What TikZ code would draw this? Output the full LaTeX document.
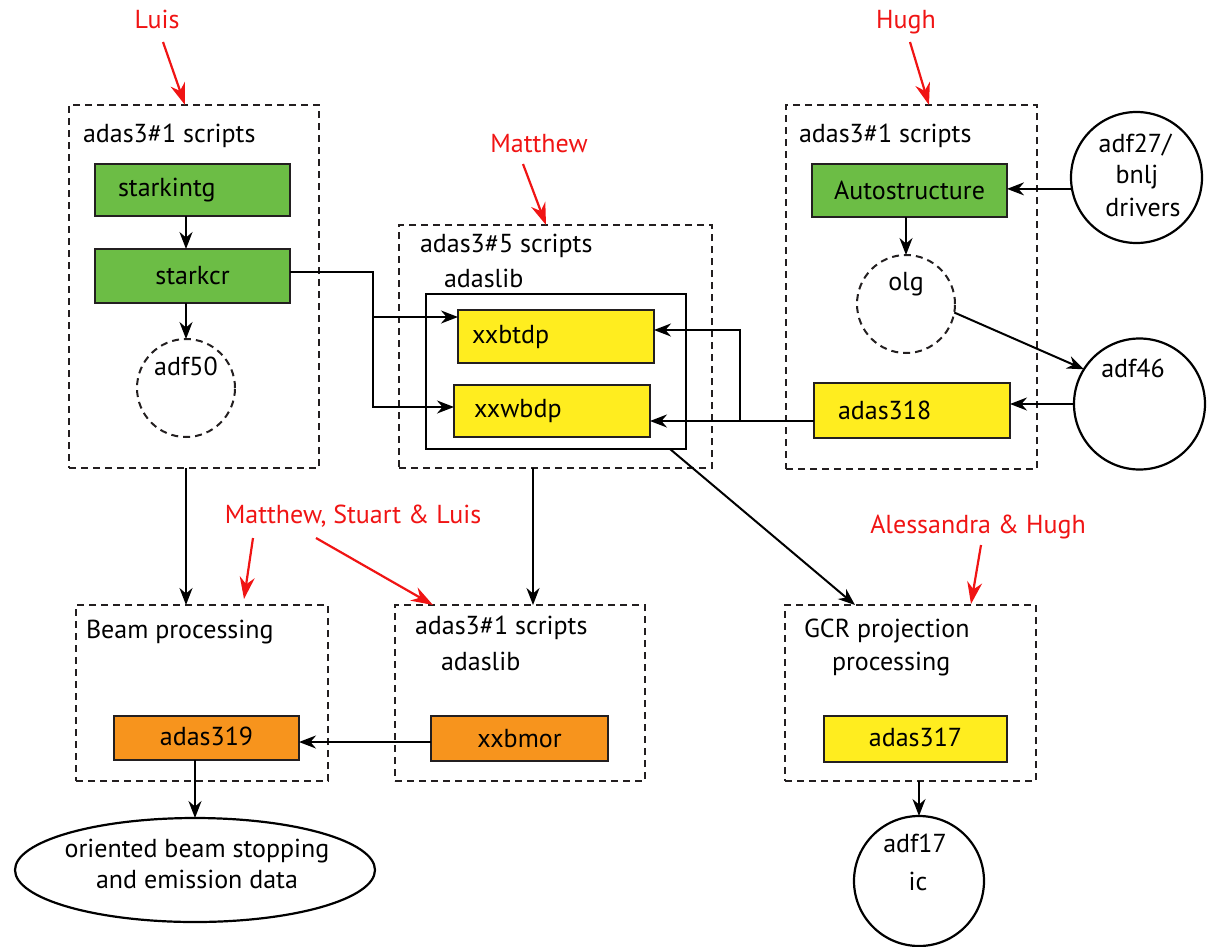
\documentclass[tikz,border=0pt]{standalone}
\usepackage{fontspec}
\setmainfont{PT Sans}
\usetikzlibrary{arrows.meta,shapes.geometric}
\definecolor{boxgreen}{RGB}{108,189,69}
\definecolor{boxyellow}{RGB}{255,237,31}
\definecolor{boxorange}{RGB}{247,148,29}
\definecolor{annred}{RGB}{240,20,20}
\definecolor{edgecol}{RGB}{35,31,32}
\begin{document}
\begin{tikzpicture}[x=1pt,y=-1pt,
  every node/.style={font=\fontsize{26}{31}\selectfont, inner sep=0pt, outer sep=0pt},
  group/.style={draw=edgecol, line width=2pt, dash pattern=on 7pt off 5pt, rectangle},
  solidgroup/.style={draw=black, line width=2.2pt, rectangle},
  fbox/.style={draw=edgecol, line width=2.4pt, rectangle},
  greenbox/.style={fbox, fill=boxgreen},
  yellowbox/.style={fbox, fill=boxyellow},
  orangebox/.style={fbox, fill=boxorange},
  dcirc/.style={circle, draw=edgecol, line width=2pt, dash pattern=on 7pt off 5pt},
  scirc/.style={circle, draw=black, line width=2.2pt},
  lab/.style={anchor=base west},
  clab/.style={anchor=base},
  redlab/.style={anchor=base, text=annred},
  arr/.style={draw=black, line width=2pt, -{Stealth[length=17pt,width=13pt]}},
  redarr/.style={draw=annred, line width=2.2pt, -{Stealth[length=22pt,width=15pt]}}
]
\useasboundingbox (0,0) rectangle (1213,946);

% dashed groups
\node[group, minimum width=250pt, minimum height=363pt] (box1) at (194,286.5) {};
\node[group, minimum width=313pt, minimum height=243pt] (box2) at (555.5,346.5) {};
\node[group, minimum width=251pt, minimum height=364pt] (box3) at (911.5,287) {};
\node[group, minimum width=252pt, minimum height=176pt] (beambox) at (202,693) {};
\node[group, minimum width=250pt, minimum height=176pt] (lowbox) at (520,693) {};
\node[group, minimum width=251pt, minimum height=176pt] (gcrbox) at (910.5,693) {};
\node[solidgroup, minimum width=260pt, minimum height=155pt] (libbox) at (556,371.5) {};

% group labels
\node[lab] (box1lab) at (83,142) {adas3\#1 scripts};
\node[lab] (box3lab) at (799,142) {adas3\#1 scripts};
\node[lab] (box2lab) at (420,252) {adas3\#5 scripts};
\node[lab] (libboxlab) at (444,287) {adaslib};
\node[lab] (beamlab) at (86,638) {Beam processing};
\node[lab] (lowlab) at (415,634) {adas3\#1 scripts};
\node[lab] (lowlib) at (441,670) {adaslib};
\node[lab] (gcrlab) at (804,637) {GCR projection};
\node[lab] (gcrlab2) at (832,670) {processing};

% program boxes
\node[greenbox, minimum width=195pt, minimum height=52pt, inner xsep=23pt, text width=149pt, align=left] (starkintg) at (192.5,190) {starkintg};
\node[greenbox, minimum width=195pt, minimum height=54pt] (starkcr) at (192.5,276) {starkcr};
\node[greenbox, minimum width=195pt, minimum height=53pt] (autos) at (909.5,190.5) {Autostructure};
\node[yellowbox, minimum width=196pt, minimum height=53pt, inner xsep=14pt, text width=168pt, align=left] (xxbtdp) at (556,336.5) {xxbtdp};
\node[yellowbox, minimum width=196pt, minimum height=52pt, inner xsep=20pt, text width=156pt, align=left] (xxwbdp) at (552,411) {xxwbdp};
\node[yellowbox, minimum width=196pt, minimum height=55pt, inner xsep=24pt, text width=148pt, align=left] (adas318) at (912,410.5) {adas318};
\node[orangebox, minimum width=185pt, minimum height=44pt] (adas319) at (206.5,738) {\raisebox{4pt}{adas319}\hspace{10pt}};
\node[orangebox, minimum width=177pt, minimum height=45pt] (xxbmor) at (519.5,738.5) {xxbmor};
\node[yellowbox, minimum width=183pt, minimum height=46pt] (adas317) at (915.5,739) {\raisebox{4pt}{adas317}\hspace{10pt}};

% data circles
\node[dcirc, minimum size=98pt] (adf50) at (186,388) {};
\node[clab] (adf50lab) at (186,375) {adf50};
\node[dcirc, minimum size=98pt] (olg) at (906,304) {};
\node[clab] (olglab) at (906,290) {olg};
\node[scirc, minimum size=131pt] (adf27) at (1136.5,177.5) {};
\node[clab] (adf27a) at (1135,152) {adf27/};
\node[clab] (adf27b) at (1137,183) {bnlj};
\node[clab] (adf27c) at (1143,216) {drivers};
\node[scirc, minimum size=131pt] (adf46) at (1139.5,404) {};
\node[clab] (adf46lab) at (1133,377) {adf46};
\node[scirc, minimum size=130pt] (adf17) at (919,881) {};
\node[clab] (adf17a) at (915,852) {adf17};
\node[clab] (adf17b) at (918,890) {ic};
\node[ellipse, draw=black, line width=2.2pt, minimum width=360pt, minimum height=104pt] (ell) at (195,870) {};
\node[clab] (ella) at (197,857) {oriented beam stopping};
\node[clab] (ellb) at (197,888) {and emission data};

% black connectors
\draw[arr] (starkintg.south -| adf50.north) -- (starkcr.north -| adf50.north);
\draw[arr] (starkcr.south -| adf50.north) -- (adf50.north);
\coordinate (bend) at (373,272);
\draw[arr] ([yshift=4pt]starkcr.east) -- (bend) |- ([yshift=19.5pt]xxbtdp.west);
\draw[arr] (bend) |- ([yshift=4pt]xxwbdp.west);
\coordinate (rbend) at (740,421);
\draw[arr] ([yshift=-10.5pt]adas318.west) -- ([yshift=-10pt]xxwbdp.east);
\draw[arr] (rbend) |- ([yshift=6.5pt]xxbtdp.east);
\draw[arr] (adf27.190) -- (adf27.190 -| autos.east);
\draw[arr] (autos.south -| olg.north) -- (olg.north);
\draw[arr] (olg.-10) -- (adf46.148);
\draw[arr] (adf46.west) -- (adf46.west -| adas318.east);
\draw[arr] (box1.south -| adf50.center) -- (beambox.north -| adf50.center);
\draw[arr] ([xshift=-22.5pt]box2.south) -- ([xshift=-22.5pt]box2.south |- lowbox.north);
\draw[arr] ([yshift=-3.5pt]xxbmor.west) -- ([yshift=-3.5pt]xxbmor.west -| adas319.east);
\draw[arr] (adas319.south -| ell.north) -- (ell.north);
\draw[arr] ([xshift=-16pt]libbox.south east) -- ([xshift=70pt]gcrbox.north west);
\draw[arr] (gcrbox.south -| adf17.north) -- (adf17.north);

% red annotations
\node[redlab] (luis) at (157,28) {Luis};
\node[redlab] (hugh) at (906,28) {Hugh};
\node[redlab] (matthew) at (539,152) {Matthew};
\node[redlab] (msl) at (353,523) {Matthew, Stuart \& Luis};
\node[redlab] (alh) at (978,533) {Alessandra \& Hugh};
\coordinate (luisA) at (163,42);   \coordinate (luisB) at (185,105);
\coordinate (hughA) at (910,42);   \coordinate (hughB) at (929,105);
\coordinate (matA) at (523,164);   \coordinate (matB) at (546,225);
\coordinate (mslA) at (253,538);   \coordinate (mslB) at (244,599);
\coordinate (mslC) at (316,538);   \coordinate (mslD) at (433,605);
\coordinate (alhA) at (981,545);   \coordinate (alhB) at (971,604);
\draw[redarr] (luisA) -- (luisB);
\draw[redarr] (hughA) -- (hughB);
\draw[redarr] (matA) -- (matB);
\draw[redarr] (mslA) -- (mslB);
\draw[redarr] (mslC) -- (mslD);
\draw[redarr] (alhA) -- (alhB);
\end{tikzpicture}
\end{document}
